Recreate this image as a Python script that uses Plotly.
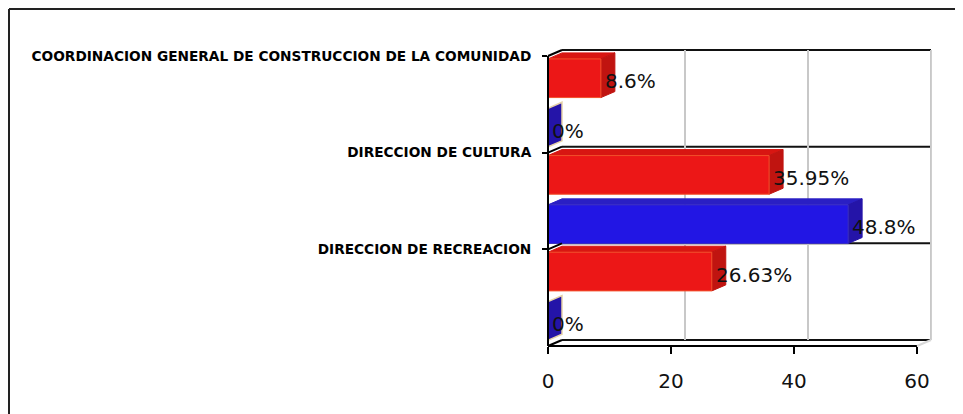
import plotly.graph_objects as go

# ---------------- data ----------------
categories = [
    "COORDINACION GENERAL DE CONSTRUCCION DE LA COMUNIDAD",
    "DIRECCION DE CULTURA",
    "DIRECCION DE RECREACION",
]
serie_roja = [8.6, 35.95, 26.63]
serie_azul = [0.0, 48.8, 0.0]
etiquetas_roja = ["8.6%", "35.95%", "26.63%"]
etiquetas_azul = ["0%", "48.8%", "0%"]
x_ticks = [0, 20, 40, 60]

# ---------------- geometry / style ----------------
W, H = 955, 406                    # page body has an 8px margin
PL, PT, PB = 540, 42, 338          # plot area left / top / bottom (px, figure coords)
PW = 383                           # plot width (px)
PH = PB - PT
SX = 6.15                          # px per x unit
DEPTH_X, DEPTH_Y = 14, 6           # 3D depth in px
SY = (PB - PT - DEPTH_Y) / 3.0     # px per category band
DX = DEPTH_X / SX
DY = DEPTH_Y / SY
XMAX_FRONT = 60
x_range = [0, PW / SX]
y_range = [2.5, -0.5 - DY]

RED, RED_TOP, RED_SIDE = "#ec1717", "#d81612", "#c01410"
BLUE, BLUE_TOP, BLUE_SIDE = "#2216e4", "#2a1fc4", "#2414a8"
BAR_W = 0.40
OFF_RED, OFF_BLUE = -0.47, 0.04

ypos = list(range(len(categories)))


def xp(x):
    return x * SX / PW


def yp(y):
    return (2.5 - y) * SY / PH


fig = go.Figure()
fig.add_trace(go.Bar(
    y=ypos, x=serie_roja, orientation="h", width=BAR_W, offset=OFF_RED,
    marker=dict(color=RED, line=dict(color="#f2502a", width=1)),
    name="Serie 1", showlegend=False, hoverinfo="x",
))
fig.add_trace(go.Bar(
    y=ypos, x=serie_azul, orientation="h", width=BAR_W, offset=OFF_BLUE,
    marker=dict(color=BLUE, line=dict(color="#3a2ec0", width=1)),
    name="Serie 2", showlegend=False, hoverinfo="x",
))

shapes = []
# back wall grid (vertical, grey)
for v in x_ticks[1:]:
    shapes.append(dict(type="line", xref="x", yref="y", layer="below",
                       x0=v + DX, x1=v + DX, y0=-0.5 - DY, y1=2.5 - DY,
                       line=dict(color="#c8c8c8", width=2)))
# back horizontal lines at band boundaries
bounds = [-0.5, 0.5, 1.5, 2.5]
for b in bounds:
    shapes.append(dict(type="line", xref="paper", yref="paper", layer="below",
                       x0=xp(DX), x1=xp(XMAX_FRONT + DX), y0=yp(b - DY), y1=yp(b - DY),
                       line=dict(color="#111111", width=2)))
# right back edge
shapes.append(dict(type="line", xref="paper", yref="paper", layer="below",
                   x0=xp(XMAX_FRONT + DX), x1=xp(XMAX_FRONT + DX),
                   y0=yp(-0.5 - DY), y1=yp(2.5 - DY),
                   line=dict(color="#cfcfcf", width=2)))


def faces(values, offset, top_col, side_col, outline):
    for i, v in enumerate(values):
        yt = ypos[i] + offset
        yb = yt + BAR_W
        if v > 0:
            shapes.append(dict(type="path", xref="x", yref="y", layer="below",
                               path=f"M 0,{yt} L {v},{yt} L {v + DX},{yt - DY} L {DX},{yt - DY} Z",
                               fillcolor=top_col, line=dict(color=top_col, width=1)))
        shapes.append(dict(type="path", xref="x", yref="y", layer="below",
                           path=f"M {v},{yt} L {v},{yb} L {v + DX},{yb - DY} L {v + DX},{yt - DY} Z",
                           fillcolor=side_col,
                           line=dict(color=outline if v == 0 else side_col, width=1.5 if v == 0 else 1)))


faces(serie_roja, OFF_RED, RED_TOP, RED_SIDE, "#e6d2a8")
faces(serie_azul, OFF_BLUE, BLUE_TOP, BLUE_SIDE, "#e6d2a8")

# front axes and left diagonal stubs
shapes.append(dict(type="line", xref="paper", yref="paper", layer="above",
                   x0=0, x1=0, y0=yp(2.5), y1=yp(-0.5),
                   line=dict(color="#000000", width=2)))
shapes.append(dict(type="line", xref="paper", yref="paper", layer="above",
                   x0=0, x1=xp(XMAX_FRONT), y0=yp(2.5), y1=yp(2.5),
                   line=dict(color="#000000", width=2)))
shapes.append(dict(type="line", xref="paper", yref="paper", layer="above",
                   x0=xp(XMAX_FRONT), x1=xp(XMAX_FRONT + DX), y0=yp(2.5), y1=yp(2.5 - DY),
                   line=dict(color="#d8d8d8", width=2)))
for b in bounds:
    shapes.append(dict(type="line", xref="paper", yref="paper", layer="above",
                       x0=0, x1=xp(DX), y0=yp(b), y1=yp(b - DY),
                       line=dict(color="#000000", width=2)))

# outer frame
fx0 = (1 - PL) / PW
fy0 = (PB - 1) / PH
shapes.append(dict(type="line", xref="paper", yref="paper", layer="above",
                   x0=fx0, x1=fx0, y0=fy0, y1=(PB - H - 10) / PH,
                   line=dict(color="#222222", width=2)))
shapes.append(dict(type="line", xref="paper", yref="paper", layer="above",
                   x0=fx0, x1=(W + 10 - PL) / PW, y0=fy0, y1=fy0,
                   line=dict(color="#222222", width=2)))

annotations = []
for vals, labs, off in ((serie_roja, etiquetas_roja, OFF_RED), (serie_azul, etiquetas_azul, OFF_BLUE)):
    for i, (v, t) in enumerate(zip(vals, labs)):
        annotations.append(dict(x=v, y=ypos[i] + off + BAR_W / 2, xref="x", yref="y",
                                text=t, showarrow=False, xanchor="left", yanchor="middle",
                                xshift=2, yshift=-3,
                                font=dict(family="DejaVu Sans", size=20, color="#111111")))

fig.update_layout(
    width=W, height=H, autosize=False,
    margin=dict(l=PL, r=W - PL - PW, t=PT, b=H - PB, pad=0),
    paper_bgcolor="white", plot_bgcolor="white",
    barmode="overlay",
    shapes=shapes, annotations=annotations,
    xaxis=dict(range=x_range, tickvals=x_ticks, ticktext=[str(v) for v in x_ticks],
               showgrid=False, zeroline=False, showline=False,
               ticks="outside", ticklen=7, tickwidth=2, tickcolor="#000000",
               ticklabelstandoff=10,
               tickfont=dict(family="DejaVu Sans", size=20, color="#111111")),
    yaxis=dict(range=y_range, tickvals=[b for b in bounds[:3]], ticktext=categories,
               showgrid=False, zeroline=False, showline=False,
               ticks="outside", ticklen=5, tickwidth=2, tickcolor="#000000",
               ticklabelstandoff=8,
               tickfont=dict(family="DejaVu Sans", size=13.7, color="#000000", weight="bold")),
)

fig.write_html("out.html")
